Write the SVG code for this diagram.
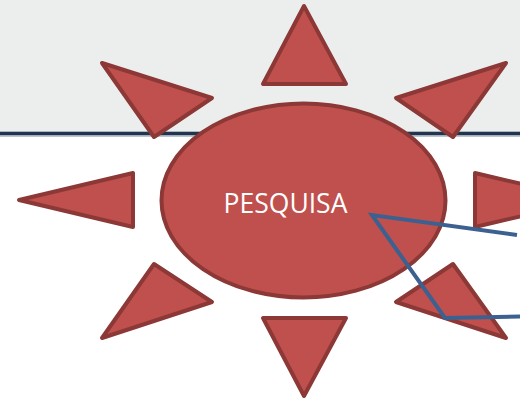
<svg xmlns="http://www.w3.org/2000/svg" width="520" height="404" viewBox="0 0 520 404">
<style>
.tri{fill:#C0504D;stroke:#8C3836;stroke-width:4;stroke-linejoin:round}
.sun{fill:#C0504D;stroke:#8C3836;stroke-width:4}
.lbl{font-family:"Open Sans","Noto Sans",sans-serif;font-size:26.5px;fill:#FFFFFF}
.conn{fill:none;stroke:#3C6190;stroke-width:4;stroke-linejoin:miter}
</style>
<rect x="0" y="0" width="520" height="404" fill="#FFFFFF"/>
<rect x="0" y="0" width="520" height="132" fill="#ECEEEE"/>
<rect x="0" y="131.7" width="520" height="3.3" fill="#1F3550"/>
<rect x="0" y="135" width="520" height="1.7" fill="#A6ADB8"/>
<g id="ray-top"><polygon class="tri" points="304,6 263,84 346,84"/></g>
<g id="ray-top-right"><polygon class="tri" points="506,63 396,98 453,137"/></g>
<g id="ray-right"><polygon class="tri" points="475,173 475,227 590,200"/></g>
<g id="ray-bottom-right"><polygon class="tri" points="453,264 396,302 506,338"/></g>
<g id="ray-bottom"><polygon class="tri" points="263,318 346,318 304,396"/></g>
<g id="ray-bottom-left"><polygon class="tri" points="154,264 212,302 102,338"/></g>
<g id="ray-left"><polygon class="tri" points="133,173 133,227 19,200"/></g>
<g id="ray-top-left"><polygon class="tri" points="102,63 212,98 154,137"/></g>
<g id="center">
<ellipse class="sun" cx="303.5" cy="200.5" rx="142" ry="97"/>
<text class="lbl" x="285.5" y="213" text-anchor="middle">PESQUISA</text>
</g>
<g id="connectors">
<polyline class="conn" points="517,235 372,215 445,318 520,316.5"/>
</g>
</svg>
